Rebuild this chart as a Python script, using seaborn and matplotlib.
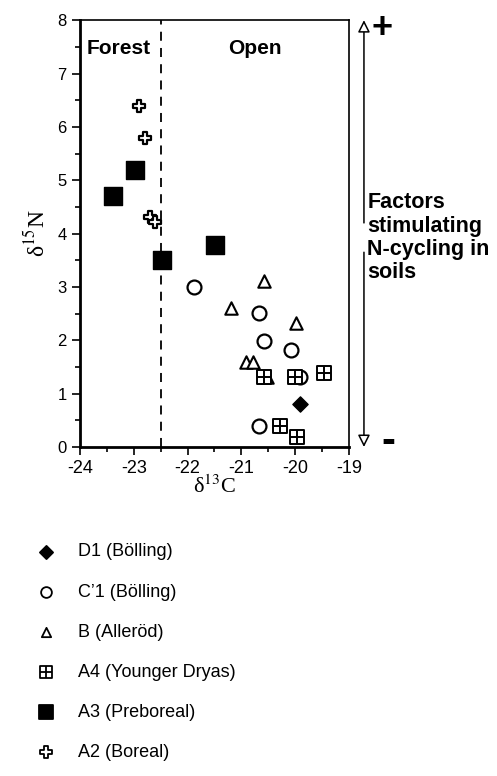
import numpy as np
import pandas as pd
import matplotlib
matplotlib.use("Agg")
import matplotlib.pyplot as plt
import seaborn as sns
from matplotlib.path import Path
from matplotlib.ticker import MultipleLocator

# data (delta13C, delta15N)
d1_x = [-19.9]
d1_y = [0.8]
c1_x = [-21.88, -20.67, -20.57, -20.08, -19.9, -20.67]
c1_y = [3.0, 2.52, 1.98, 1.82, 1.32, 0.4]
b_x = [-20.58, -21.19, -19.99, -20.91, -20.78, -20.52]
b_y = [3.12, 2.6, 2.32, 1.6, 1.6, 1.32]
a4_x = [-20.57, -20.0, -19.47, -20.29, -19.97]
a4_y = [1.32, 1.32, 1.38, 0.4, 0.18]
a3_x = [-22.97, -23.38, -22.48, -21.49]
a3_y = [5.2, 4.7, 3.5, 3.78]
a2_x = [-22.91, -22.8, -22.69, -22.6]
a2_y = [6.4, 5.8, 4.32, 4.22]

labels = ["D1 (Bölling)", "C\u20191 (Bölling)", "B (Alleröd)",
          "A4 (Younger Dryas)", "A3 (Preboreal)", "A2 (Boreal)"]

# custom marker paths
sq_grid = Path(
    [(-1, -1), (1, -1), (1, 1), (-1, 1), (-1, -1), (-1, 0), (1, 0), (0, -1), (0, 1)],
    [Path.MOVETO, Path.LINETO, Path.LINETO, Path.LINETO, Path.CLOSEPOLY,
     Path.MOVETO, Path.LINETO, Path.MOVETO, Path.LINETO])
a = 0.38
plus_outline = Path(
    [(-a, 1), (a, 1), (a, a), (1, a), (1, -a), (a, -a), (a, -1), (-a, -1),
     (-a, -a), (-1, -a), (-1, a), (-a, a), (-a, 1)],
    [Path.MOVETO] + [Path.LINETO] * 11 + [Path.CLOSEPOLY])

sns.set_style("white")
plt.rcParams["font.family"] = ["Liberation Sans", "DejaVu Sans"]
plt.rcParams["mathtext.fontset"] = "stix"
plt.rcParams["axes.unicode_minus"] = False
for k in ["text.color", "axes.labelcolor", "xtick.color", "ytick.color"]:
    plt.rcParams[k] = "black"

fig = plt.figure(figsize=(4.97, 7.76), dpi=100)
ax = fig.add_axes([0.161, 0.424, 0.541, 0.550])

groups = [
    (d1_x, d1_y, "D", "black", 60, 1.0),
    (c1_x, c1_y, "o", "white", 100, 1.6),
    (b_x, b_y, "^", "white", 80, 1.5),
    (a4_x, a4_y, sq_grid, "white", 105, 1.4),
    (a3_x, a3_y, "s", "black", 150, 1.0),
    (a2_x, a2_y, plus_outline, "white", 65, 1.6),
]
for (gx, gy, mk, fc, s, lw), lab in zip(groups, labels):
    df = pd.DataFrame({"x": gx, "y": gy})
    sns.scatterplot(data=df, x="x", y="y", marker=mk, s=s, color=fc,
                    edgecolor="black", linewidth=lw, label=lab, ax=ax, zorder=3)

ax.axvline(-22.5, color="black", lw=1.3, ls=(0, (5, 4)))

ax.set_xlim(-24, -19)
ax.set_ylim(0, 8)
ax.xaxis.set_major_locator(MultipleLocator(1))
ax.xaxis.set_minor_locator(MultipleLocator(0.5))
ax.yaxis.set_major_locator(MultipleLocator(1))
ax.yaxis.set_minor_locator(MultipleLocator(0.5))
ax.tick_params(which="both", direction="out", bottom=True, left=True,
               top=False, right=False, width=1.2)
ax.tick_params(axis="x", labelsize=13)
ax.tick_params(axis="y", labelsize=12)
ax.tick_params(which="major", length=6)
ax.tick_params(which="minor", length=3.5)
for side in ["left", "bottom"]:
    ax.spines[side].set_linewidth(2)
for side in ["top", "right"]:
    ax.spines[side].set_linewidth(1.2)
for sp in ax.spines.values():
    sp.set_color("black")

ax.set_xlabel("δ$^{13}$C", fontsize=16, family="Liberation Serif", labelpad=-1)
ax.set_ylabel("δ$^{15}$N", fontsize=17, family="Liberation Serif", labelpad=6)

ax.text(-23.87, 7.46, "Forest", fontsize=15, fontweight="bold", va="center")
ax.text(-21.25, 7.46, "Open", fontsize=15, fontweight="bold", va="center")

# double arrow on the right
tr = ("axes fraction", "data")
ax.annotate("", xy=(1.056, 8.0), xytext=(1.056, 4.2), xycoords=tr, textcoords=tr,
            arrowprops=dict(arrowstyle="-|>", fc="white", ec="black", lw=1.1,
                            mutation_scale=18, shrinkA=0, shrinkB=0))
ax.annotate("", xy=(1.056, 0.0), xytext=(1.056, 3.65), xycoords=tr, textcoords=tr,
            arrowprops=dict(arrowstyle="-|>", fc="white", ec="black", lw=1.1,
                            mutation_scale=18, shrinkA=0, shrinkB=0))
ax.text(1.068, 3.92, "Factors\nstimulating\nN-cycling in\nsoils", transform=ax.get_yaxis_transform(),
        fontsize=15.5, fontweight="bold", va="center", ha="left", linespacing=1.14)
ax.text(1.085, 7.85, "+", transform=ax.get_yaxis_transform(), fontsize=26,
        fontweight="bold", va="center", ha="left")
ax.text(1.12, 0.1, "-", transform=ax.get_yaxis_transform(), fontsize=30,
        fontweight="bold", va="center", ha="left")

leg = ax.legend(loc="upper left", bbox_to_anchor=(-0.222, -0.209), frameon=False,
                fontsize=13, labelspacing=1.28, handletextpad=0.78,
                borderaxespad=0)
legend_sizes = [45, 60, 45, 75, 95, 70]
for h, sz in zip(leg.legend_handles, legend_sizes):
    h.set_sizes([sz])
    h.set_linewidth(1.3)

fig.savefig("out.png", dpi=100)
